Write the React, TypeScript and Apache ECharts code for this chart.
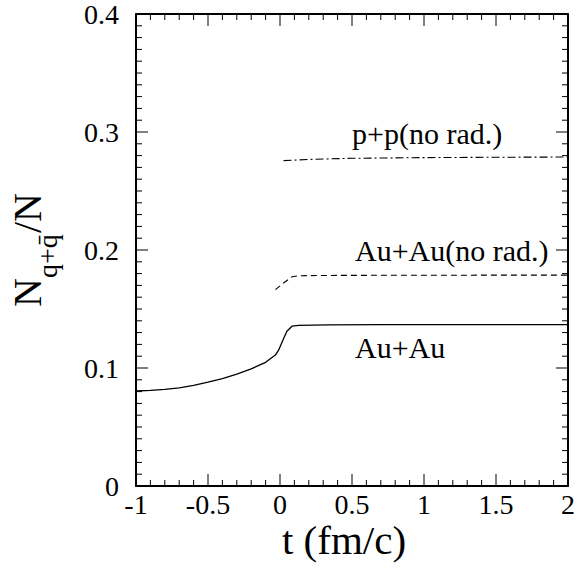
import React, { useEffect, useRef } from "react";
import * as echarts from "echarts";

const FONT = "Liberation Serif";
const INK = "#000";

// Au+Au (with radiation) — solid
const auAuT = [-1, -0.9, -0.8, -0.7, -0.6, -0.5, -0.4, -0.3, -0.2, -0.1, -0.032, -0.009, 0.025, 0.048, 0.083, 0.13, 0.33, 0.7, 1.2, 1.6, 2];
const auAuN = [0.0805, 0.0810, 0.0818, 0.0832, 0.0853, 0.0880, 0.0910, 0.0948, 0.0993, 0.1048, 0.1110, 0.1153, 0.1250, 0.1312, 0.1354, 0.1362, 0.1366, 0.1367, 0.1367, 0.1367, 0.1367];

// Au+Au (no rad.) — dashed
const auAuNoRadT = [-0.032, 0.025, 0.083, 0.13, 0.4, 1, 1.5, 2];
const auAuNoRadN = [0.1664, 0.1720, 0.1773, 0.1782, 0.1785, 0.1786, 0.1787, 0.1787];

// p+p (no rad.) — dash-dot
const ppT = [0.025, 0.2, 0.5, 1, 1.5, 2];
const ppN = [0.2757, 0.2768, 0.2777, 0.2783, 0.2786, 0.2788];

const labelPP = "p+p(no rad.)";
const labelAuAuNoRad = "Au+Au(no rad.)";
const labelAuAu = "Au+Au";
const xTitle = "t (fm/c)";

const X_MIN = -1;
const X_MAX = 2;
const Y_MIN = 0;
const Y_MAX = 0.4;

const zip = (a: number[], b: number[]) => a.map((v, i) => [v, b[i]]);

// tick marks (axis decoration): x every 0.1 (major every 0.5), y every 0.01 (major every 0.1)
const xTickMarks: number[][] = [];
for (let i = 0; i <= 30; i++) xTickMarks.push([Math.round((X_MIN + i * 0.1) * 100) / 100, i % 5 === 0 ? 1 : 0]);
const yTickMarks: number[][] = [];
for (let i = 0; i <= 40; i++) yTickMarks.push([Math.round((Y_MIN + i * 0.01) * 1000) / 1000, i % 10 === 0 ? 1 : 0]);

export default function App() {
  const ref = useRef<HTMLDivElement>(null);
  useEffect(() => {
    const chart = echarts.init(ref.current!, null, { renderer: "svg" });
    const ax = (pos: string, isX: boolean, showLabel: boolean, margin: number) => ({
      type: "value",
      min: isX ? X_MIN : Y_MIN,
      max: isX ? X_MAX : Y_MAX,
      interval: isX ? 0.5 : 0.1,
      position: pos,
      axisLine: { show: true, onZero: false, lineStyle: { color: "#000", width: 2 } },
      axisTick: { show: false },
      minorTick: { show: false },
      splitLine: { show: false },
      axisLabel: showLabel
        ? { show: true, fontSize: 28, color: "#000", fontFamily: FONT, margin }
        : { show: false },
    });
    const tickLine = (x1: number, y1: number, x2: number, y2: number) => ({
      type: "line",
      shape: { x1, y1, x2, y2 },
      style: { stroke: INK, lineWidth: 1 },
    });
    chart.setOption({
      animation: false,
      grid: { left: 136, right: 6, top: 9, bottom: 83 },
      xAxis: [ax("bottom", true, true, 4), ax("top", true, false, 8)],
      yAxis: [ax("left", false, true, 17), ax("right", false, false, 8)],
      series: [
        {
          type: "line", xAxisIndex: 0, yAxisIndex: 0, data: zip(auAuT, auAuN), showSymbol: false, symbol: "none",
          lineStyle: { color: "#000", width: 1.3, type: "solid" },
        },
        {
          type: "line", xAxisIndex: 0, yAxisIndex: 0, data: zip(auAuNoRadT, auAuNoRadN), showSymbol: false, symbol: "none",
          lineStyle: { color: "#000", width: 1.1, type: [6, 4] },
        },
        {
          type: "line", xAxisIndex: 0, yAxisIndex: 0, data: zip(ppT, ppN), showSymbol: false, symbol: "none",
          lineStyle: { color: "#000", width: 1.1, type: [8, 3, 2, 3] },
        },
        {
          type: "custom", xAxisIndex: 0, yAxisIndex: 0, silent: true, clip: false, z: 5,
          data: xTickMarks,
          renderItem: (params: any, api: any) => {
            const v = api.value(0);
            const len = api.value(1) === 1 ? 12 : 6;
            const b = api.coord([v, Y_MIN]);
            const t = api.coord([v, Y_MAX]);
            return { type: "group", children: [tickLine(b[0], b[1], b[0], b[1] - len), tickLine(t[0], t[1], t[0], t[1] + len)] };
          },
        },
        {
          type: "custom", xAxisIndex: 0, yAxisIndex: 0, silent: true, clip: false, z: 5,
          data: yTickMarks,
          renderItem: (params: any, api: any) => {
            const v = api.value(0);
            const len = api.value(1) === 1 ? 12 : 6;
            const l = api.coord([X_MIN, v]);
            const r = api.coord([X_MAX, v]);
            return { type: "group", children: [tickLine(l[0], l[1], l[0] + len, l[1]), tickLine(r[0], r[1], r[0] - len, r[1])] };
          },
        },
      ],
    } as any);
    const txt = (text: string, x: number, y: number, size: number, align: string) => ({
      type: "text",
      x,
      y,
      style: { text, fontSize: size, fontFamily: FONT, fill: "#000", align, verticalAlign: "middle" },
    });
    chart.setOption({
      graphic: [
        txt(labelPP, 352, 133, 30, "left"),
        txt(labelAuAuNoRad, 355, 250, 30, "left"),
        txt(labelAuAu, 355, 347, 30, "left"),
        txt(xTitle, 344, 540, 41, "center"),
        {
          type: "group",
          x: 27.5,
          y: 307,
          rotation: Math.PI / 2,
          children: [
            { type: "text", x: 0, y: 0, style: { text: "N", fontSize: 40, fontFamily: FONT, fill: "#000", align: "left", verticalAlign: "middle" } },
            { type: "text", x: 29, y: 19.5, style: { text: "q+q\u0304", fontSize: 28, fontFamily: FONT, fill: "#000", align: "left", verticalAlign: "middle" } },
            { type: "text", x: 74, y: 0, style: { text: "/N", fontSize: 40, fontFamily: FONT, fill: "#000", align: "left", verticalAlign: "middle" } },
          ],
        },
      ],
    });
    return () => chart.dispose();
  }, []);
  return <div ref={ref} style={{ position: "fixed", left: 0, top: 0, width: 578, height: 569, background: "#fff" }} />;
}
